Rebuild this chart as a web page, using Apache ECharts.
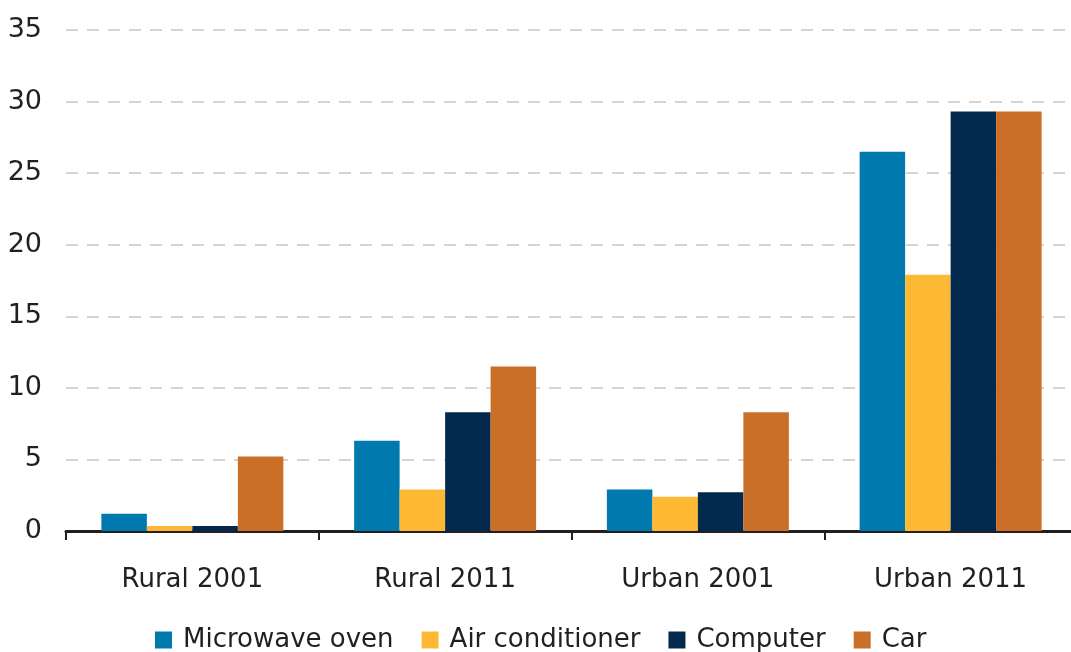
<!DOCTYPE html>
<html>
<head>
<meta charset="utf-8">
<script src="https://cdn.jsdelivr.net/npm/echarts@6/dist/echarts.min.js"></script>
<style>
  html, body { margin: 0; padding: 0; background: #fff; }
  #chart { width: 1071px; height: 652px; }
</style>
</head>
<body>
<div id="chart"></div>
<script>
const categories = ["Rural 2001", "Rural 2011", "Urban 2001", "Urban 2011"];
const microwave = [1.2, 6.3, 2.9, 26.5];
const airConditioner = [0.35, 2.9, 2.4, 17.9];
const computer = [0.35, 8.3, 2.7, 29.3];
const car = [5.2, 11.5, 8.3, 29.3];

const font = "DejaVu Sans";
const chart = echarts.init(document.getElementById("chart"), null, { renderer: "canvas" });

const option = {
  animation: false,
  color: ["#0079AE", "#FDB933", "#04294F", "#C96F28"],
  grid: { left: 66, width: 1011, top: 30, bottom: 121, containLabel: false, outerBoundsMode: "none" },
  legend: {
    left: 150,
    top: 622,
    itemWidth: 17,
    itemHeight: 17,
    itemGap: 28,
    icon: "rect",
    textStyle: { fontFamily: font, fontSize: 26, color: "#231f20", padding: [0, 0, 0, 6] },
    data: ["Microwave oven", "Air conditioner", "Computer", "Car"]
  },
  xAxis: {
    type: "category",
    data: categories,
    axisLine: { lineStyle: { color: "#231f20", width: 3 } },
    axisTick: { show: true, length: 9, lineStyle: { color: "#231f20", width: 2 } },
    axisLabel: { fontFamily: font, fontSize: 26, color: "#231f20", margin: 36 }
  },
  yAxis: {
    type: "value",
    min: 0,
    max: 35,
    interval: 5,
    axisLine: { show: false },
    axisTick: { show: false },
    axisLabel: { fontFamily: font, fontSize: 27, color: "#231f20", margin: 24 },
    splitLine: { lineStyle: { color: "#d4d4d4", width: 2, type: [12, 9] } }
  },
  series: [
    { name: "Microwave oven", type: "bar", data: microwave, barGap: "0%", barCategoryGap: "28%" },
    { name: "Air conditioner", type: "bar", data: airConditioner },
    { name: "Computer", type: "bar", data: computer },
    { name: "Car", type: "bar", data: car }
  ]
};

chart.setOption(option);
</script>
</body>
</html>
